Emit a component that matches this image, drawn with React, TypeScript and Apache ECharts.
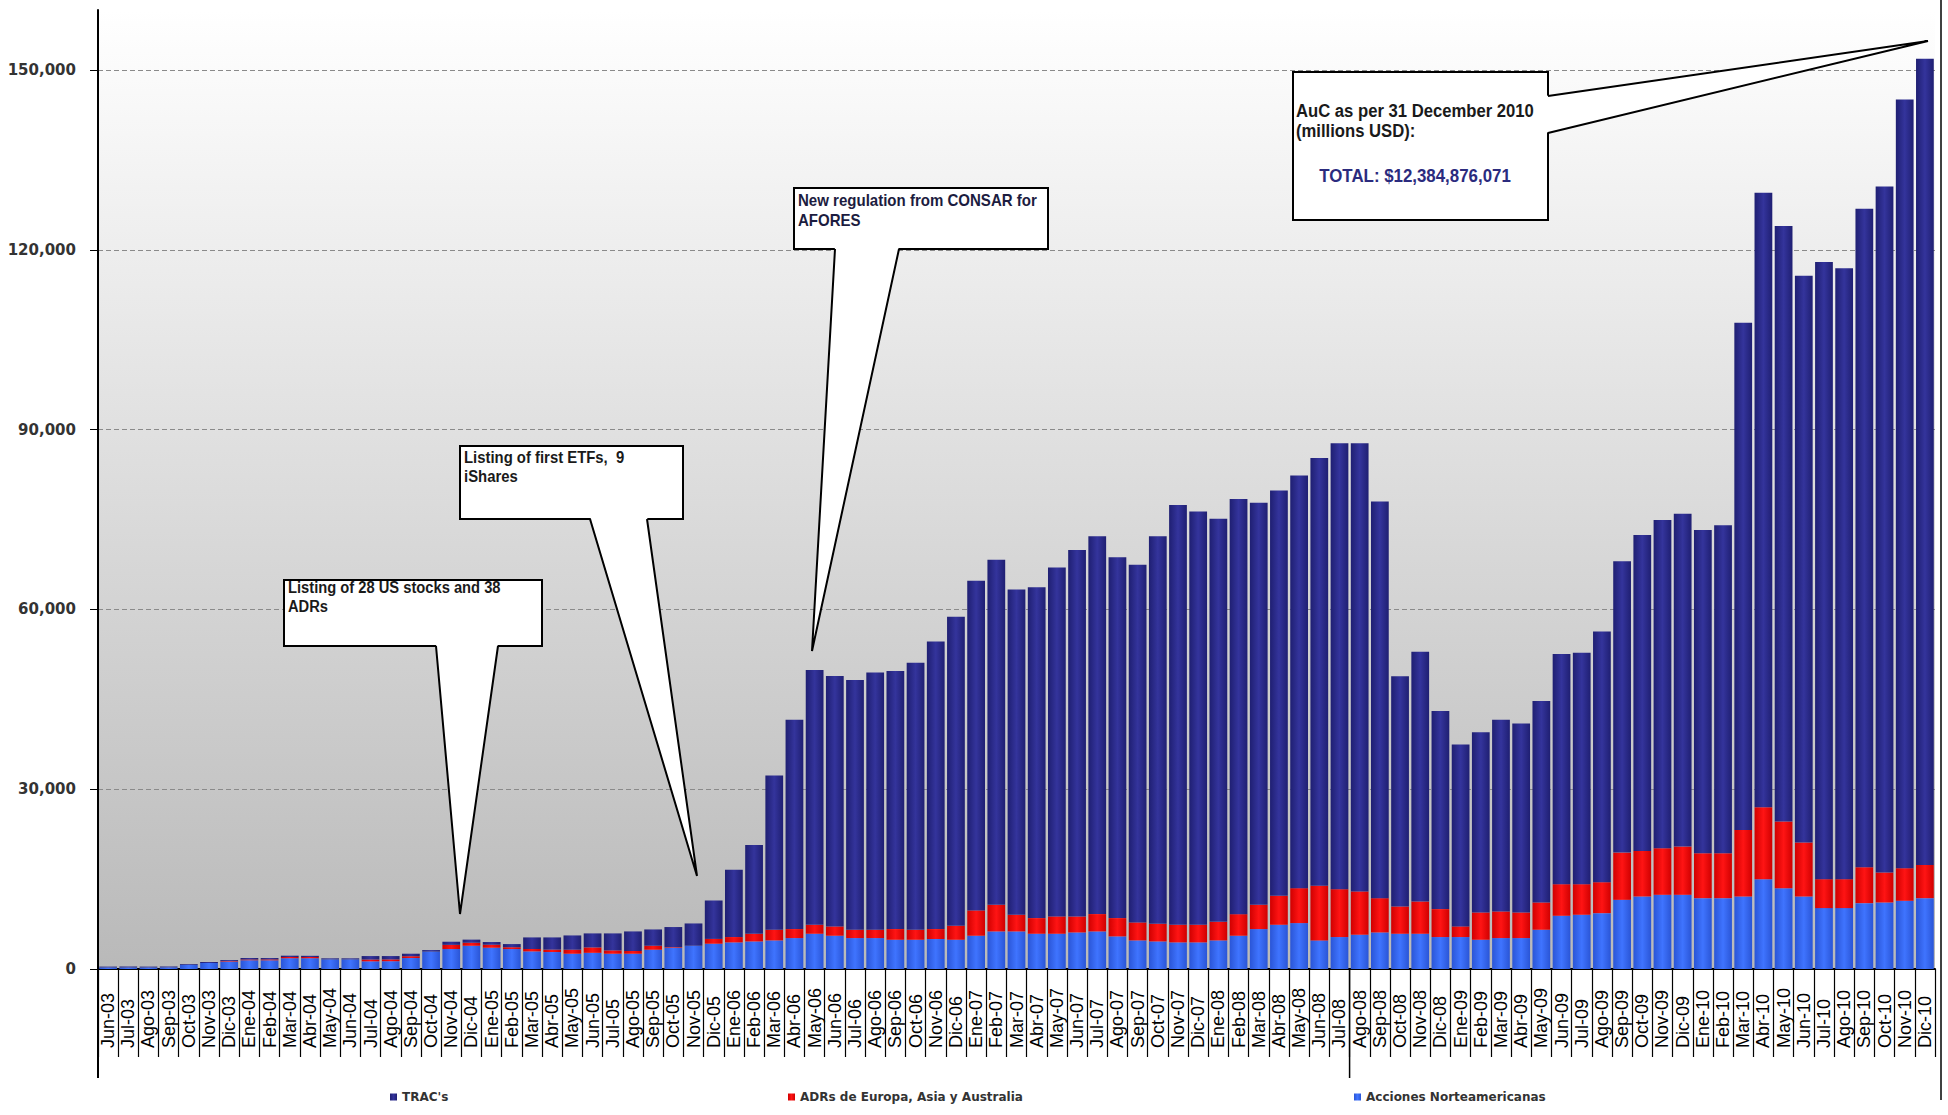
import React, { useEffect, useRef } from 'react';
import * as echarts from 'echarts';

const months = [
  'Jun-03','Jul-03','Ago-03','Sep-03','Oct-03','Nov-03','Dic-03',
  'Ene-04','Feb-04','Mar-04','Abr-04','May-04','Jun-04','Jul-04','Ago-04','Sep-04','Oct-04','Nov-04','Dic-04',
  'Ene-05','Feb-05','Mar-05','Abr-05','May-05','Jun-05','Jul-05','Ago-05','Sep-05','Oct-05','Nov-05','Dic-05',
  'Ene-06','Feb-06','Mar-06','Abr-06','May-06','Jun-06','Jul-06','Ago-06','Sep-06','Oct-06','Nov-06','Dic-06',
  'Ene-07','Feb-07','Mar-07','Abr-07','May-07','Jun-07','Jul-07','Ago-07','Sep-07','Oct-07','Nov-07','Dic-07',
  'Ene-08','Feb-08','Mar-08','Abr-08','May-08','Jun-08','Jul-08','Ago-08','Sep-08','Oct-08','Nov-08','Dic-08',
  'Ene-09','Feb-09','Mar-09','Abr-09','May-09','Jun-09','Jul-09','Ago-09','Sep-09','Oct-09','Nov-09','Dic-09',
  'Ene-10','Feb-10','Mar-10','Abr-10','May-10','Jun-10','Jul-10','Ago-10','Sep-10','Oct-10','Nov-10','Dic-10',
];

// Acciones Norteamericanas (bottom segment)
const acciones = [
  250, 250, 250, 270, 700, 1000, 1250,
  1450, 1450, 1800, 1800, 1600, 1600, 1280, 1300, 1830, 2900, 3330, 3880,
  3550, 3330, 2940, 2830, 2550, 2700, 2550, 2550, 3220, 3550, 3880, 4220,
  4440, 4600, 4770, 5160, 5880, 5550, 5160, 5160, 4880, 4880, 5000, 4880,
  5550, 6270, 6270, 5880, 5880, 6100, 6270, 5440, 4770, 4600, 4440, 4440,
  4770, 5550, 6660, 7380, 7660, 4770, 5330, 5720, 6100, 5880, 5880, 5330,
  5330, 4880, 5160, 5160, 6550, 8880, 9050, 9320, 11540, 12100, 12380, 12380,
  11820, 11820, 12100, 14990, 13490, 12100, 10160, 10160, 10990, 11100, 11380, 11820,
];

// ADRs de Europa, Asia y Australia (middle segment)
const adrs = [
  0, 0, 0, 0, 0, 0, 100,
  150, 150, 200, 200, 0, 0, 300, 300, 300, 0, 700, 500,
  500, 300, 400, 400, 670, 900, 550, 450, 660, 100, 0, 800,
  890, 1280, 1780, 1500, 1500, 1550, 1390, 1390, 1780, 1660, 1660, 2330,
  4220, 4440, 2780, 2610, 2890, 2660, 2890, 3050, 3000, 2940, 2940, 2940,
  3100, 3600, 4050, 4830, 5830, 9100, 7990, 7220, 5720, 4550, 5380, 4660,
  1780, 4550, 4440, 4270, 4550, 5270, 5100, 5160, 7880, 7600, 7770, 8050,
  7490, 7490, 11100, 11990, 11100, 8990, 4830, 4830, 5990, 5000, 5440, 5550,
];

// TRAC's (top segment)
const tracs = [
  150, 150, 150, 150, 130, 170, 150,
  230, 230, 220, 200, 180, 180, 580, 560, 420, 260, 520, 520,
  450, 530, 1930, 2040, 2380, 2340, 2840, 3270, 2720, 3350, 3720, 6410,
  11210, 14820, 25750, 34940, 42520, 41800, 41650, 42900, 43040, 44560, 47990, 51550,
  54990, 57590, 54250, 55210, 58230, 61140, 63040, 60210, 59680, 64660, 70020, 68970,
  67230, 69250, 67090, 67640, 68860, 71380, 74380, 74760, 66180, 38420, 41690, 33060,
  30340, 30070, 32000, 31520, 33600, 38400, 38600, 41820, 48630, 52700, 54750, 55520,
  53940, 54740, 84600, 102520, 99360, 94560, 102960, 101910, 109870, 114450, 128230, 134480,
];

const yTicks = [0, 30000, 60000, 90000, 120000, 150000];
const seriesNames = ['Acciones Norteamericanas', 'ADRs de Europa, Asia y Australia', "TRAC's"];

const W = 1948;
const H = 1115;
const GRID_LEFT = 98;
const GRID_RIGHT = 13;
const GRID_TOP = 10;
const GRID_BOTTOM = 146;

const hGrad = (edge: string, mid: string) =>
  new echarts.graphic.LinearGradient(0, 0, 1, 0, [
    { offset: 0, color: edge },
    { offset: 0.5, color: mid },
    { offset: 1, color: edge },
  ]);

const TXT = '"Liberation Sans", Arial, sans-serif';

function callout(
  box: [number, number, number, number],
  wedge: number[][],
  lines: { t: string; x: number; y: number; size: number; sx: number; color: string; align?: string }[]
) {
  const [x1, y1, x2, y2] = box;
  const els: any[] = [
    {
      type: 'rect',
      shape: { x: x1, y: y1, width: x2 - x1, height: y2 - y1 },
      style: { fill: '#ffffff', stroke: '#000000', lineWidth: 2 },
      z: 100,
    },
    {
      type: 'polygon',
      shape: { points: [wedge[0], wedge[1], wedge[2]] },
      style: { fill: '#ffffff', stroke: null },
      z: 101,
    },
    {
      type: 'polyline',
      shape: { points: [wedge[3], wedge[2], wedge[4]] },
      style: { stroke: '#000000', lineWidth: 2, fill: null },
      z: 102,
    },
  ];
  lines.forEach((l) => {
    els.push({
      type: 'text',
      x: l.x,
      y: l.y,
      scaleX: l.sx,
      z: 103,
      style: {
        text: l.t,
        fill: l.color,
        font: `bold ${l.size}px ${TXT}`,
        align: l.align || 'left',
        verticalAlign: 'middle',
      },
    });
  });
  return els;
}

export default function App() {
  const ref = useRef<HTMLDivElement>(null);

  useEffect(() => {
    document.body.style.margin = '0';
    const chart = echarts.init(ref.current!, null, { renderer: 'svg' });
    const plotW = W - GRID_LEFT - GRID_RIGHT;
    const catW = plotW / months.length;
    const baseY = H - GRID_BOTTOM;
    const sepX = GRID_LEFT + months.indexOf('Ago-08') * catW;

    const colors = [
      hGrad('#2a55d6', '#3f74ff'),
      hGrad('#d00000', '#ff1414'),
      hGrad('#1f1f72', '#34349c'),
    ];
    const data = [acciones, adrs, tracs];

    const graphics: any[] = [
      { type: 'line', shape: { x1: GRID_LEFT, y1: baseY, x2: GRID_LEFT, y2: 1078 }, style: { stroke: '#000', lineWidth: 2 }, z: 90 },
      { type: 'line', shape: { x1: sepX, y1: baseY, x2: sepX, y2: 1078 }, style: { stroke: '#000', lineWidth: 1.5 }, z: 90 },
      { type: 'line', shape: { x1: 1941, y1: 0, x2: 1941, y2: 1100 }, style: { stroke: '#000', lineWidth: 1.5 }, z: 90 },
      ...callout(
        [284, 580, 542, 646],
        [[436, 643], [498, 643], [460, 914], [436, 646], [498, 646]],
        [
          { t: 'Listing of 28 US stocks and 38', x: 288, y: 587, size: 16, sx: 0.92, color: '#1a1a1a' },
          { t: 'ADRs', x: 288, y: 606, size: 16, sx: 0.92, color: '#1a1a1a' },
        ]
      ),
      ...callout(
        [460, 446, 683, 519],
        [[590, 516], [647, 516], [697, 876], [590, 519], [647, 519]],
        [
          { t: 'Listing of first ETFs,  9', x: 464, y: 457, size: 16, sx: 0.93, color: '#1a1a1a' },
          { t: 'iShares', x: 464, y: 476, size: 16, sx: 0.93, color: '#1a1a1a' },
        ]
      ),
      ...callout(
        [794, 188, 1048, 249],
        [[835, 246], [899, 246], [812, 651], [835, 249], [899, 249]],
        [
          { t: 'New regulation from CONSAR for', x: 798, y: 200, size: 16, sx: 0.94, color: '#1c1c40' },
          { t: 'AFORES', x: 798, y: 220, size: 16, sx: 0.94, color: '#1c1c40' },
        ]
      ),
      ...callout(
        [1293, 72, 1548, 220],
        [[1545, 96], [1545, 133], [1928, 41], [1548, 96], [1548, 133]],
        [
          { t: 'AuC as per 31 December 2010', x: 1296, y: 111, size: 18, sx: 0.926, color: '#1a1a1a' },
          { t: '(millions USD):', x: 1296, y: 131, size: 18, sx: 0.926, color: '#1a1a1a' },
          { t: 'TOTAL: $12,384,876,071', x: 1415, y: 176, size: 18, sx: 0.937, color: '#2b2b7e', align: 'center' },
        ]
      ),
    ];

    const legendPos = [
      { name: "TRAC's", left: 385 },
      { name: 'ADRs de Europa, Asia y Australia', left: 783 },
      { name: 'Acciones Norteamericanas', left: 1349 },
    ];

    const option: any = {
      animation: false,
      backgroundColor: '#ffffff',
      grid: {
        left: GRID_LEFT,
        right: GRID_RIGHT,
        top: GRID_TOP,
        bottom: GRID_BOTTOM,
        show: true,
        borderWidth: 0,
        backgroundColor: new echarts.graphic.LinearGradient(0, 0, 0, 1, [
          { offset: 0, color: '#ffffff' },
          { offset: 1, color: '#b9b9b9' },
        ]),
      },
      legend: legendPos.map((l) => ({
        data: [l.name],
        left: l.left,
        top: 1086,
        icon: 'rect',
        itemWidth: 7,
        itemHeight: 7,
        itemGap: 4,
        selectedMode: false,
        textStyle: { fontFamily: '"DejaVu Sans", sans-serif', fontSize: 12, fontWeight: 'bold', color: '#333' },
      })),
      xAxis: {
        type: 'category',
        data: months,
        boundaryGap: true,
        axisLine: { show: true, lineStyle: { color: '#000', width: 2 } },
        axisTick: { show: true, interval: 0, length: 88, lineStyle: { color: '#000', width: 1.2 } },
        axisLabel: {
          interval: 0,
          rotate: 90,
          margin: 79,
          align: 'left',
          verticalAlign: 'middle',
          fontFamily: TXT,
          fontSize: 18,
          color: '#000',
        },
        splitLine: { show: false },
      },
      yAxis: {
        type: 'value',
        min: 0,
        max: 160000,
        interval: 30000,
        axisLine: { show: true, lineStyle: { color: '#000', width: 2 } },
        axisTick: { show: true, length: 8, lineStyle: { color: '#000' }, customValues: yTicks },
        axisLabel: {
          margin: 22,
          customValues: yTicks,
          fontFamily: '"DejaVu Sans", sans-serif',
          fontWeight: 'bold',
          fontSize: 15,
          color: '#333',
          formatter: (v: number) => v.toLocaleString('en-US'),
        },
        splitLine: {
          show: true,
          showMinLine: false,
          lineStyle: { color: '#8a8a8a', type: [5, 3], width: 1 },
        },
      },
      series: seriesNames.map((name, i) => ({
        name,
        type: 'bar',
        stack: 'auc',
        data: data[i],
        barCategoryGap: '12%',
        itemStyle: { color: colors[i] },
        emphasis: { disabled: true },
      })),
      graphic: { elements: graphics },
    };

    chart.setOption(option);
    return () => chart.dispose();
  }, []);

  return <div ref={ref} style={{ width: W, height: H }} />;
}
